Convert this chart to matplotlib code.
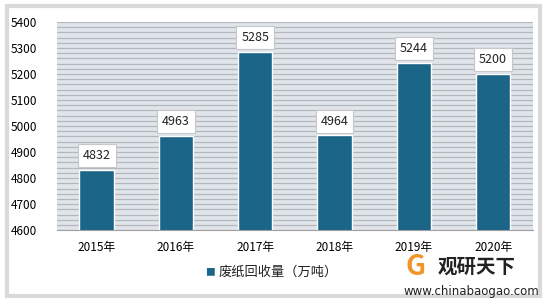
import matplotlib.pyplot as plt
from matplotlib.patches import Rectangle
import numpy as np

plt.rcParams['font.family'] = ['Noto Sans CJK SC', 'DejaVu Sans']

years = ['2015年', '2016年', '2017年', '2018年', '2019年', '2020年']
values = [4832, 4963, 5285, 4964, 5244, 5200]
series_name = '废纸回收量（万吨）'

bar_color = '#1b6688'
bg_color = '#dfe5ea'
grid_color = '#b4b8bc'

fig = plt.figure(figsize=(5.47, 3.02), dpi=100)
fig.patch.set_facecolor('white')

# outer frame with a faint shadow
fig.patches.append(Rectangle((0.012, 0.02), 0.975, 0.96, transform=fig.transFigure,
                             facecolor='none', edgecolor='#dadada', lw=3, zorder=0))

ax = fig.add_axes([0.104, 0.238, 0.870, 0.689])
ax.set_facecolor(bg_color)

x = np.arange(len(years))
ax.bar(x, values, width=0.43, color=bar_color, edgecolor='white', linewidth=1, zorder=3)

for xi, v in zip(x, values):
    ax.text(xi, v + 30, str(v), ha='center', va='bottom', fontsize=9, color='#222222',
            bbox=dict(boxstyle='square,pad=0.4', facecolor='white', edgecolor='#c8c8c8', lw=0.8),
            zorder=4)

ax.set_ylim(4600, 5400)
ax.set_xlim(-0.5, len(years) - 0.5)
ax.set_yticks(np.arange(4600, 5401, 100))
ax.set_yticks(np.arange(4600, 5401, 20), minor=True)
ax.yaxis.grid(True, which='both', color=grid_color, lw=0.9, zorder=0)
ax.set_axisbelow(True)
ax.tick_params(axis='y', which='both', length=0, labelsize=8.5, pad=14)
ax.tick_params(axis='x', length=0, labelsize=8.5, pad=8)
ax.set_xticks(x)
ax.set_xticklabels(years)
for s in ['top', 'right', 'left']:
    ax.spines[s].set_visible(False)
ax.spines['bottom'].set_color('#a0a0a0')

# legend
fig.text(0.383, 0.099, '■', color=bar_color, fontsize=7, va='center', ha='center')
fig.text(0.400, 0.099, series_name, fontsize=9.5, va='center', ha='left', color='#222222')

# watermark logo
fig.text(0.76, 0.115, 'G', fontsize=20, color='#f0952a', fontweight='bold', va='center', ha='center')
fig.text(0.80, 0.115, '观研天下', fontsize=14, fontweight='bold', color='#222222', va='center', ha='left')
fig.text(0.985, 0.035, 'www.chinabaogao.com', fontsize=8.5, color='#222222', va='center', ha='right',
         family='DejaVu Sans')

fig.savefig('out.png', dpi=100)
